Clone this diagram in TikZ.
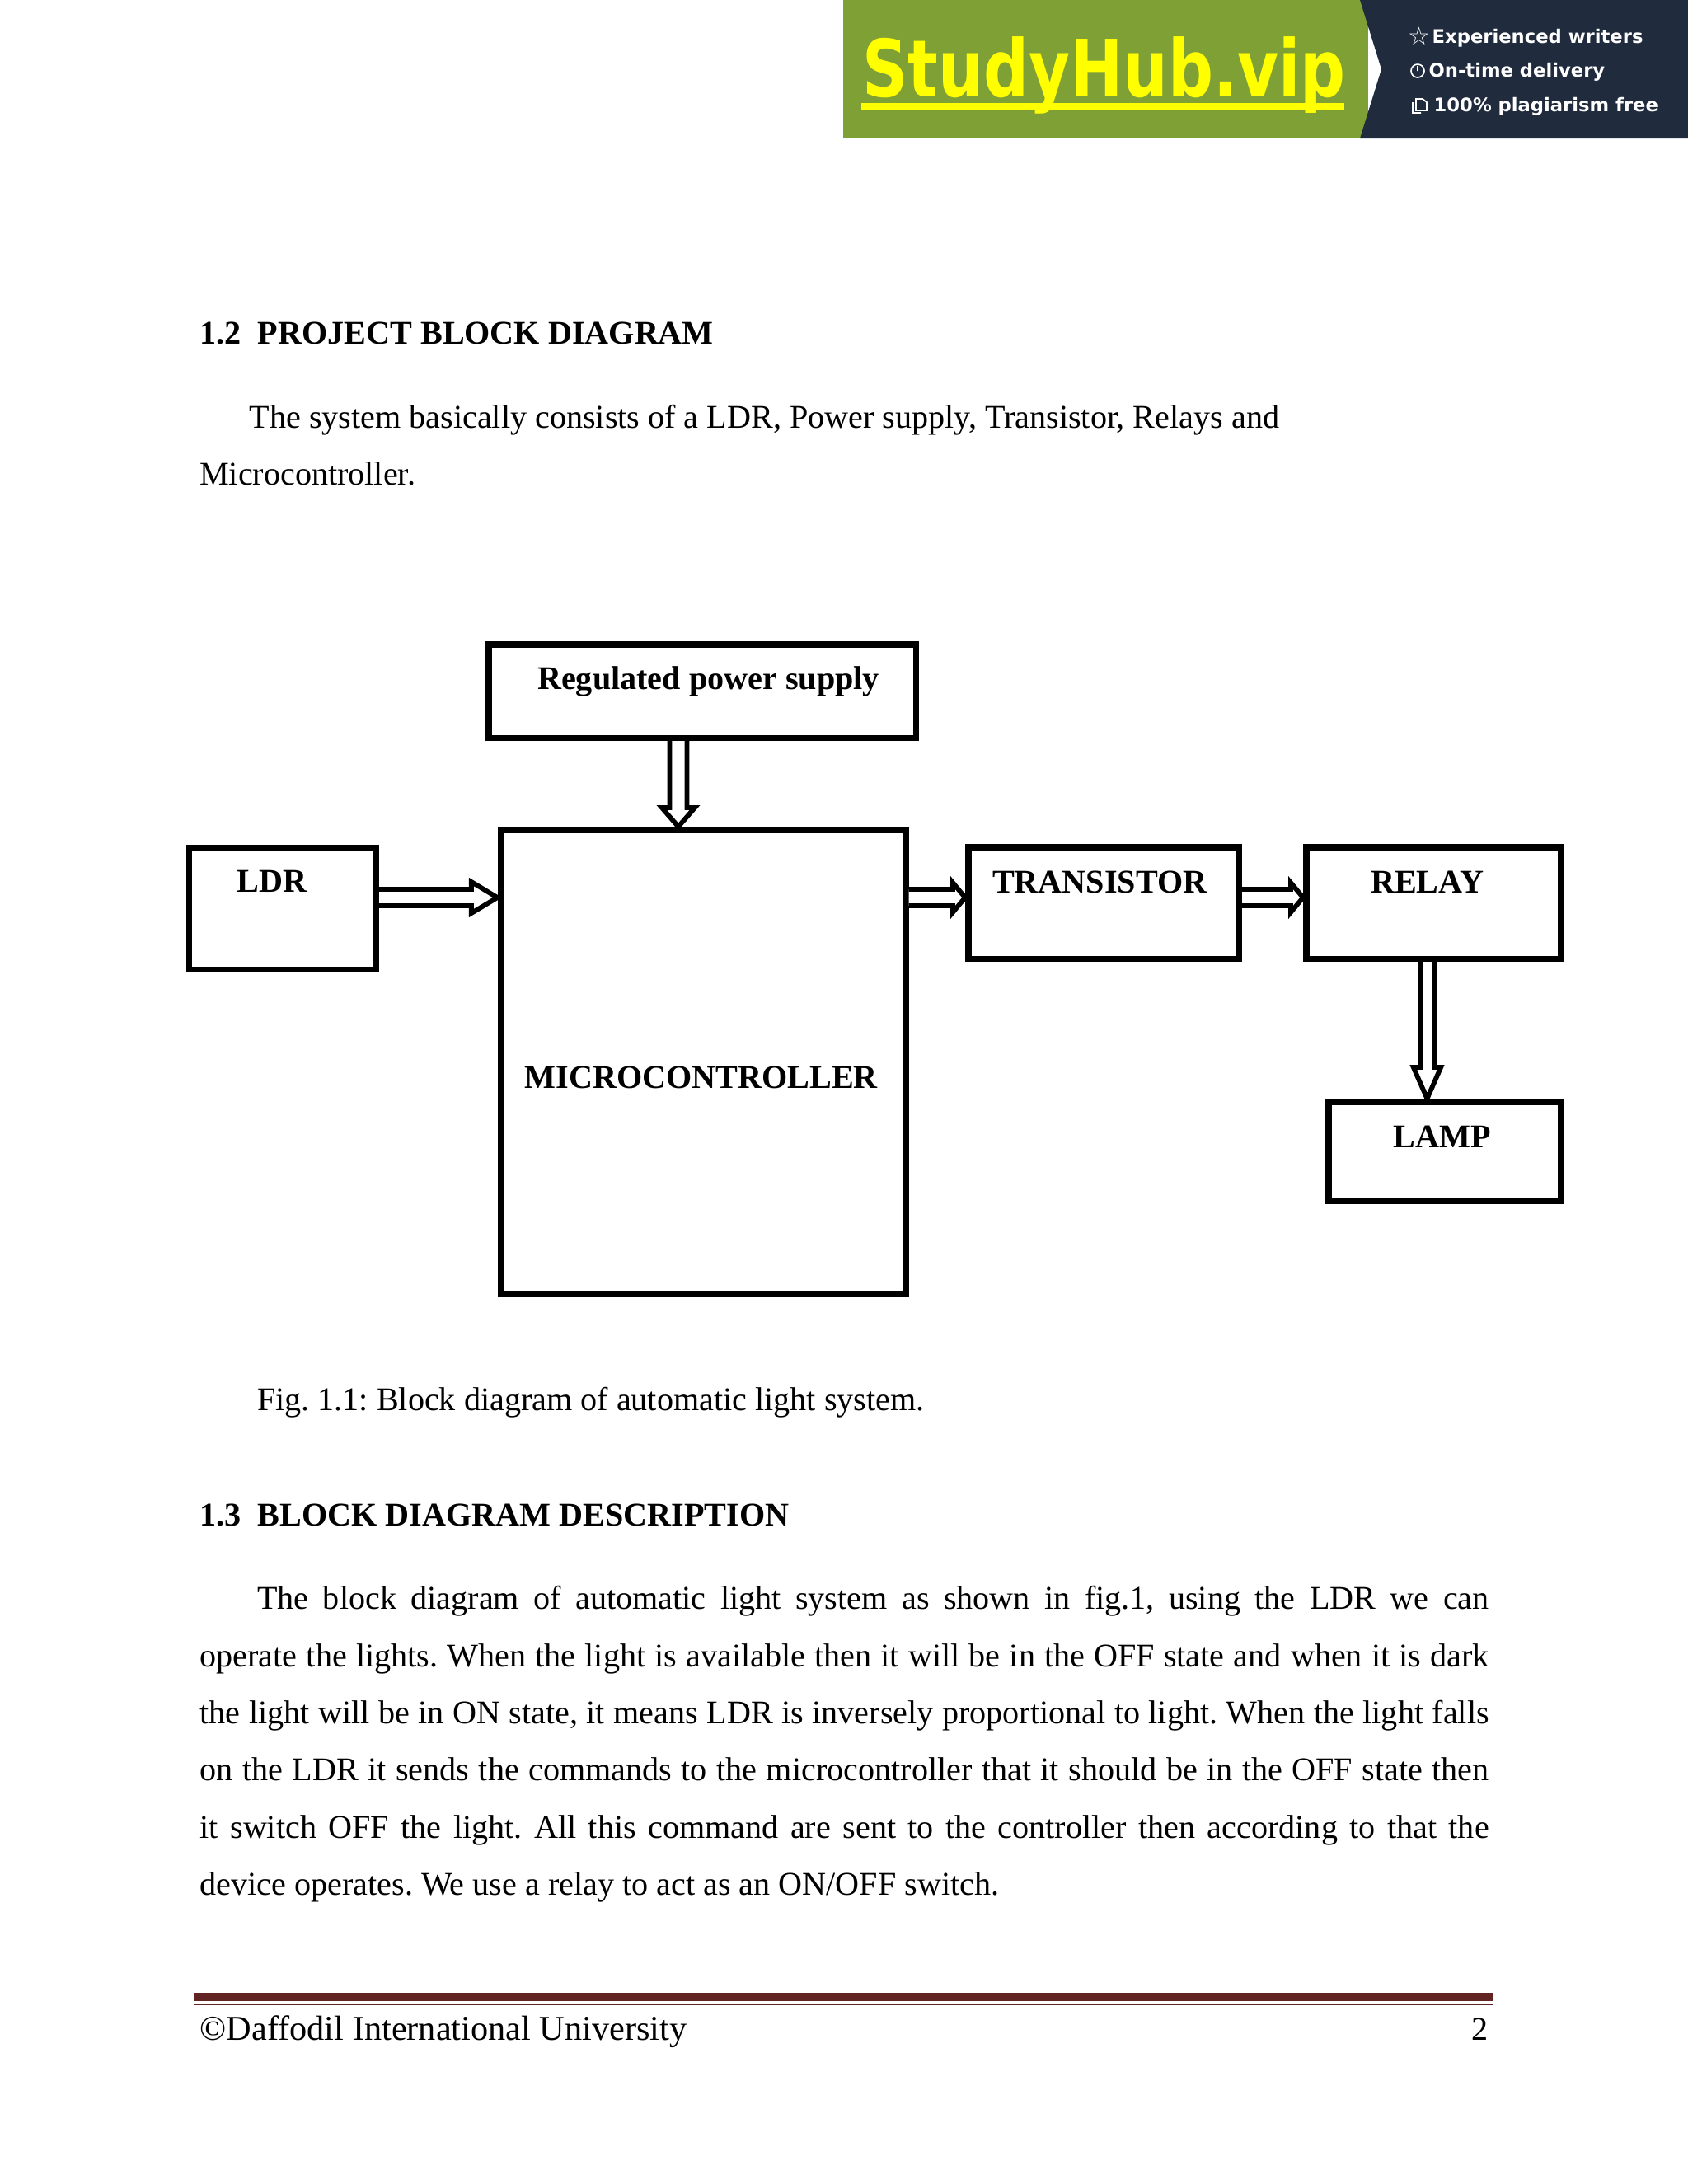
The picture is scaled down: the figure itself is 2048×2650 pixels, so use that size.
\documentclass[tikz,border=0pt]{standalone}
\usepackage{fontspec}
\setmainfont{Liberation Serif}
\newfontfamily\bannerfont{DejaVu Sans}
\usepackage{graphicx}
\usetikzlibrary{positioning}
\usetikzlibrary{calc}
\definecolor{bannergreen}{HTML}{7FA035}
\definecolor{bannerdark}{HTML}{202B3D}
\definecolor{banneryellow}{HTML}{FFFF00}
\definecolor{rulemaroon}{HTML}{622423}
\frenchspacing
\begin{document}
\begin{tikzpicture}
			[
				x = 0.3pt, y = -0.3pt,
				myblock/.style 2 args = {draw, rectangle, line width = 2.25pt, minimum width = #1, minimum height = #2, inner sep = 0pt},
				mylabel/.style = {anchor = base west, inner sep = 0pt, font = \fontsize{12.04}{14}\selectfont\bfseries},
				mytext/.style = {anchor = base west, inner sep = 0pt, font = \fontsize{12.04}{14}\selectfont},
				myside/.style = {anchor = base west, inner sep = 0pt, text = white, font = \bannerfont\fontsize{6.8}{8}\selectfont\bfseries},
				myarrow/.style n args = {3}{draw, fill = white, line width = 1.75pt, to path = {
					($(\tikztostart)!#1!90:(\tikztotarget)$)
					-- ($($(\tikztotarget)!#3!(\tikztostart)$)!#1!90:(\tikztotarget)$)
					-- ($($(\tikztotarget)!#3!(\tikztostart)$)!#2!90:(\tikztotarget)$)
					-- (\tikztotarget)
					-- ($($(\tikztotarget)!#3!(\tikztostart)$)!#2!-90:(\tikztotarget)$)
					-- ($($(\tikztotarget)!#3!(\tikztostart)$)!#1!-90:(\tikztotarget)$)
					-- ($(\tikztostart)!#1!-90:(\tikztotarget)$)}}
			]
			\useasboundingbox (0,0) rectangle (2048,2650);
			%
			% banner
			\fill [bannergreen] (1023,0) rectangle (1660,168);
			\fill [bannerdark] (1650,0) -- (1676,84) -- (1650,168) -- (2048,168) -- (2048,0) -- cycle;
			\node (brand) [anchor = base west, inner sep = 0pt, text = banneryellow, font = \bannerfont\fontsize{28.8}{30}\selectfont\bfseries] at (1046,117) {\scalebox{0.8}[1]{StudyHub.vip}};
			\fill [banneryellow] (1045,125) rectangle (1631,134);
			\node (writers) [myside] at (1737,52) {Experienced writers};
			\node (delivery) [myside] at (1733,93) {On-time delivery};
			\node (plagiarism) [myside] at (1739,135) {100\% plagiarism free};
			\node (star) [myside, font = \bannerfont\fontsize{9}{10}\selectfont] at (1708,54) {☆};
			\draw [white, line width = 0.5pt] (1720,86) circle (8) (1720,80) -- (1720,86);
			\draw [white, line width = 0.5pt] (1718,120) -- (1726,120) -- (1731,124) -- (1731,134) -- (1718,134) -- cycle (1714,124) -- (1714,137) -- (1724,137);
			%
			% text above the figure
			\node (head12) [mytext, font = \fontsize{12.04}{14}\selectfont\bfseries] at (242,417) {1.2\hspace{0.5em}PROJECT BLOCK DIAGRAM};
			\node (intro1) [mytext] at (302,519.5) {The system basically consists of a LDR, Power supply, Transistor, Relays and};
			\node (intro2) [mytext] at (241.5,588) {Microcontroller.};
			%
			% blocks
			\node (mcu) [myblock = {147.45pt}{169.05pt}] at (853,1288.5) {};
			\node (supply) [myblock = {155.55pt}{34.05pt}, above = 31.2pt of mcu, xshift = -0.3pt] {};
			\node (ldr) [myblock = {68.1pt}{44.25pt}, left = 43.05pt of mcu.west, yshift = 55.8pt] {};
			\node (transistor) [myblock = {98.55pt}{40.65pt}, right = 20.55pt of mcu.east, yshift = 57.9pt] {};
			\node (relay) [myblock = {92.55pt}{40.65pt}, right = 22.2pt of transistor] {};
			\node (lamp) [myblock = {84.45pt}{36.15pt}, below = 49.8pt of relay.south east, anchor = north east] {};
			%
			\node (mcutext) [mylabel] at (636,1320) {MICROCONTROLLER};
			\node (supplytext) [mylabel] at (651.5,836.5) {Regulated power supply};
			\node (ldrtext) [mylabel] at (287,1082) {LDR};
			\node (transistortext) [mylabel] at (1203.5,1083) {TRANSISTOR};
			\node (relaytext) [mylabel] at (1662.5,1083) {RELAY};
			\node (lamptext) [mylabel] at (1690,1392) {LAMP};
			%
			% arrows
			\coordinate (busline) at (0,1089);
			\coordinate (powerline) at (823,0);
			\coordinate (lampline) at (1731.5,0);
			\draw [myarrow = {3pt}{5.7pt}{9.5pt}] (ldr.east |- busline) to (mcu.west |- busline);
			\draw [myarrow = {3pt}{5.4pt}{4.5pt}] (mcu.east |- busline) to (transistor.west |- busline);
			\draw [myarrow = {3pt}{5.4pt}{4.5pt}] (transistor.east |- busline) to (relay.west |- busline);
			\draw [myarrow = {3.15pt}{6pt}{6.9pt}] (supply.south -| powerline) to (mcu.north -| powerline);
			\draw [myarrow = {2.55pt}{5pt}{11.4pt}] (relay.south -| lampline) to (lamp.north -| lampline);
			%
			% text below the figure
			\node (caption) [mytext] at (311.5,1711) {Fig. 1.1: Block diagram of automatic light system.};
			\node (head13) [mytext, font = \fontsize{12.04}{14}\selectfont\bfseries] at (242,1851) {1.3\hspace{0.5em}BLOCK DIAGRAM DESCRIPTION};
			\node (body) [anchor = north west, inner sep = 0pt, text width = 469.2pt, align = justify, font = \fontsize{12.04}{20.8}\selectfont] at (242,1903.5) {\strut\hspace*{20.85pt}The block diagram of automatic light system as shown in fig.1, using the LDR we can\linebreak
				operate the lights. When the light is available then it will be in the OFF state and when it is dark\linebreak
				the light will be in ON state, it means LDR is inversely proportional to light. When the light falls\linebreak
				on the LDR it sends the commands to the microcontroller that it should be in the OFF state then\linebreak
				it switch OFF the light. All this command are sent to the controller then according to that the\linebreak
				device operates. We use a relay to act as an ON/OFF switch.};
			%
			% footer
			\fill [rulemaroon] (235,2418) rectangle (1812,2428);
			\fill [rulemaroon] (235,2430.5) rectangle (1812,2433);
			\node (university) [mytext, font = \fontsize{12.7}{14}\selectfont] at (242,2475) {©Daffodil International University};
			\node (pagenumber) [mytext, anchor = base east] at (1806,2475) {2};
			%
		\end{tikzpicture}
\end{document}
